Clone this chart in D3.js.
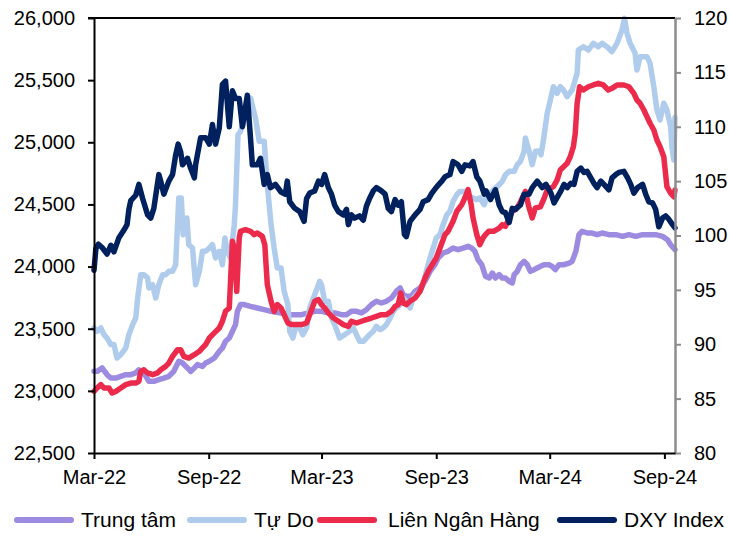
<!DOCTYPE html>
<html>
<head>
<meta charset="utf-8">
<script src="https://cdn.jsdelivr.net/npm/d3@7"></script>
<style>
  html, body { margin: 0; padding: 0; background: #fff; }
  svg { display: block; font-family: "Liberation Sans", Arial, sans-serif; }
</style>
</head>
<body>
<svg id="chart" width="729" height="536"></svg>
<script>
// ---------------- DATA ----------------
const xTickDates = ["2022-03-01", "2022-09-01", "2023-03-01", "2023-09-01", "2024-03-01", "2024-09-01"];
const leftTicks = [22500, 23000, 23500, 24000, 24500, 25000, 25500, 26000];
const rightTicks = [80, 85, 90, 95, 100, 105, 110, 115, 120];
const seriesNames = ["Trung tâm", "Tự Do", "Liên Ngân Hàng", "DXY Index"];

const trungTam = [
["2022-03-01",23157],["2022-03-06",23157],["2022-03-14",23184],["2022-03-22",23130],["2022-03-28",23103],["2022-04-05",23103],["2022-04-13",23117],["2022-04-21",23130],["2022-04-29",23130],["2022-05-07",23144],["2022-05-12",23170],["2022-05-20",23144],["2022-05-28",23077],["2022-06-05",23077],["2022-06-13",23090],["2022-06-21",23103],["2022-06-29",23117],["2022-07-07",23157],["2022-07-15",23238],["2022-07-21",23224],["2022-07-29",23184],["2022-08-03",23157],["2022-08-09",23184],["2022-08-14",23211],["2022-08-22",23197],["2022-08-27",23224],["2022-09-02",23238],["2022-09-10",23264],["2022-09-18",23318],["2022-09-23",23345],["2022-09-28",23399],["2022-10-04",23425],["2022-10-09",23479],["2022-10-14",23533],["2022-10-17",23640],["2022-10-22",23694],["2022-10-28",23694],["2022-11-07",23680],["2022-11-18",23667],["2022-11-29",23653],["2022-12-10",23640],["2022-12-26",23627],["2023-01-10",23613],["2023-01-28",23613],["2023-02-08",23627],["2023-02-18",23640],["2023-03-01",23640],["2023-03-12",23627],["2023-03-22",23627],["2023-04-02",23613],["2023-04-10",23613],["2023-04-18",23640],["2023-04-26",23640],["2023-05-04",23627],["2023-05-12",23653],["2023-05-20",23694],["2023-05-28",23721],["2023-06-05",23707],["2023-06-13",23721],["2023-06-21",23747],["2023-06-29",23801],["2023-07-05",23828],["2023-07-10",23774],["2023-07-15",23761],["2023-07-23",23761],["2023-07-29",23801],["2023-08-06",23828],["2023-08-14",23881],["2023-08-22",23962],["2023-08-30",24015],["2023-09-04",24069],["2023-09-12",24109],["2023-09-20",24123],["2023-09-28",24149],["2023-10-06",24136],["2023-10-14",24149],["2023-10-22",24163],["2023-10-28",24149],["2023-11-02",24123],["2023-11-07",24055],["2023-11-13",24015],["2023-11-19",23922],["2023-11-25",23908],["2023-11-30",23948],["2023-12-05",23908],["2023-12-11",23935],["2023-12-16",23908],["2023-12-21",23908],["2023-12-27",23881],["2024-01-01",23868],["2024-01-04",23935],["2024-01-09",23962],["2024-01-14",24015],["2024-01-20",24042],["2024-01-25",24015],["2024-01-30",23962],["2024-02-05",23975],["2024-02-10",23989],["2024-02-15",24002],["2024-02-21",24015],["2024-02-29",24015],["2024-03-05",24002],["2024-03-10",23975],["2024-03-16",24015],["2024-03-24",24015],["2024-04-01",24028],["2024-04-06",24042],["2024-04-12",24123],["2024-04-17",24257],["2024-04-22",24284],["2024-04-30",24270],["2024-05-08",24270],["2024-05-16",24257],["2024-05-24",24270],["2024-06-04",24257],["2024-06-15",24257],["2024-06-26",24243],["2024-07-06",24257],["2024-07-17",24243],["2024-07-28",24257],["2024-08-07",24257],["2024-08-18",24257],["2024-08-29",24243],["2024-09-06",24216],["2024-09-11",24176],["2024-09-18",24136]
];

const tuDo = [
["2022-03-01",23506],["2022-03-06",23479],["2022-03-12",23506],["2022-03-17",23452],["2022-03-22",23425],["2022-03-28",23372],["2022-04-02",23372],["2022-04-07",23264],["2022-04-13",23291],["2022-04-21",23345],["2022-04-26",23452],["2022-05-02",23533],["2022-05-07",23586],["2022-05-10",23747],["2022-05-15",23935],["2022-05-20",23935],["2022-05-26",23908],["2022-05-28",23828],["2022-06-03",23854],["2022-06-08",23747],["2022-06-13",23854],["2022-06-19",23935],["2022-06-24",23935],["2022-06-29",23962],["2022-07-05",23962],["2022-07-10",24015],["2022-07-15",24552],["2022-07-19",24552],["2022-07-22",24257],["2022-07-28",24391],["2022-07-31",24176],["2022-08-06",24149],["2022-08-11",23854],["2022-08-17",23962],["2022-08-22",24123],["2022-08-27",24123],["2022-09-02",24149],["2022-09-07",24176],["2022-09-12",24069],["2022-09-18",24123],["2022-09-23",24015],["2022-09-27",24230],["2022-10-01",24123],["2022-10-06",24069],["2022-10-12",24337],["2022-10-14",24498],["2022-10-18",25061],["2022-10-22",25088],["2022-10-30",25200],["2022-11-07",25356],["2022-11-15",25195],["2022-11-21",25008],["2022-11-29",25008],["2022-12-04",24659],["2022-12-10",24337],["2022-12-15",24149],["2022-12-20",23989],["2022-12-26",23989],["2022-12-31",23801],["2023-01-06",23694],["2023-01-09",23479],["2023-01-14",23425],["2023-01-20",23533],["2023-01-25",23506],["2023-01-30",23452],["2023-02-05",23506],["2023-02-10",23667],["2023-02-18",23774],["2023-02-26",23881],["2023-03-01",23854],["2023-03-06",23721],["2023-03-12",23721],["2023-03-17",23586],["2023-03-22",23533],["2023-03-30",23425],["2023-04-07",23452],["2023-04-15",23479],["2023-04-21",23506],["2023-04-26",23452],["2023-05-01",23399],["2023-05-07",23399],["2023-05-12",23425],["2023-05-17",23452],["2023-05-23",23479],["2023-05-28",23519],["2023-06-03",23492],["2023-06-08",23506],["2023-06-13",23533],["2023-06-19",23586],["2023-06-24",23640],["2023-06-29",23667],["2023-07-05",23694],["2023-07-10",23747],["2023-07-15",23721],["2023-07-21",23667],["2023-07-26",23747],["2023-07-31",23774],["2023-08-06",23801],["2023-08-11",23854],["2023-08-16",23962],["2023-08-22",24069],["2023-08-27",24149],["2023-09-01",24230],["2023-09-07",24257],["2023-09-12",24337],["2023-09-18",24417],["2023-09-23",24445],["2023-09-28",24525],["2023-10-04",24578],["2023-10-09",24605],["2023-10-17",24605],["2023-10-25",24565],["2023-10-30",24552],["2023-11-05",24538],["2023-11-10",24552],["2023-11-17",24498],["2023-11-22",24578],["2023-11-27",24592],["2023-12-05",24632],["2023-12-11",24659],["2023-12-16",24686],["2023-12-21",24739],["2023-12-27",24766],["2024-01-04",24766],["2024-01-09",24820],["2024-01-14",24847],["2024-01-20",24927],["2024-01-22",25034],["2024-01-28",24927],["2024-02-02",24820],["2024-02-07",24927],["2024-02-13",24930],["2024-02-16",24900],["2024-02-20",25018],["2024-02-26",25233],["2024-03-02",25340],["2024-03-07",25447],["2024-03-13",25394],["2024-03-18",25447],["2024-03-23",25421],["2024-03-29",25367],["2024-04-06",25421],["2024-04-14",25555],["2024-04-16",25742],["2024-04-24",25769],["2024-05-02",25742],["2024-05-10",25796],["2024-05-18",25769],["2024-05-24",25796],["2024-06-01",25769],["2024-06-09",25729],["2024-06-17",25796],["2024-06-25",25903],["2024-06-29",25997],["2024-07-03",25877],["2024-07-08",25796],["2024-07-16",25716],["2024-07-19",25581],["2024-07-24",25689],["2024-08-04",25689],["2024-08-09",25635],["2024-08-15",25447],["2024-08-20",25260],["2024-08-25",25179],["2024-08-31",25314],["2024-09-05",25260],["2024-09-11",25125],["2024-09-13",24965],["2024-09-16",24857],["2024-09-18",25200]
];

const lienNganHang = [
["2022-03-01",22996],["2022-03-06",23023],["2022-03-12",23050],["2022-03-17",23023],["2022-03-25",23023],["2022-03-30",22983],["2022-04-05",22996],["2022-04-13",23023],["2022-04-21",23050],["2022-04-29",23063],["2022-05-07",23063],["2022-05-12",23077],["2022-05-15",23157],["2022-05-20",23170],["2022-05-26",23144],["2022-06-03",23130],["2022-06-11",23144],["2022-06-16",23170],["2022-06-24",23197],["2022-06-29",23224],["2022-07-05",23278],["2022-07-13",23331],["2022-07-18",23331],["2022-07-23",23278],["2022-07-31",23264],["2022-08-09",23291],["2022-08-17",23318],["2022-08-22",23345],["2022-08-27",23372],["2022-09-02",23425],["2022-09-10",23466],["2022-09-18",23506],["2022-09-23",23560],["2022-09-28",23640],["2022-10-04",23667],["2022-10-06",23881],["2022-10-09",24203],["2022-10-12",24149],["2022-10-16",23801],["2022-10-20",24230],["2022-10-22",24284],["2022-10-30",24297],["2022-11-07",24284],["2022-11-13",24257],["2022-11-18",24270],["2022-11-26",24243],["2022-11-30",24176],["2022-12-04",23854],["2022-12-10",23721],["2022-12-15",23640],["2022-12-20",23694],["2022-12-26",23667],["2022-12-31",23613],["2023-01-06",23546],["2023-01-12",23533],["2023-01-20",23533],["2023-01-28",23533],["2023-02-05",23546],["2023-02-10",23613],["2023-02-18",23721],["2023-02-24",23734],["2023-03-01",23694],["2023-03-06",23667],["2023-03-12",23627],["2023-03-20",23586],["2023-03-28",23560],["2023-04-05",23533],["2023-04-13",23519],["2023-04-18",23560],["2023-04-26",23546],["2023-05-04",23560],["2023-05-12",23573],["2023-05-20",23586],["2023-05-28",23600],["2023-06-05",23613],["2023-06-13",23613],["2023-06-21",23640],["2023-06-27",23680],["2023-07-02",23694],["2023-07-06",23787],["2023-07-10",23707],["2023-07-15",23694],["2023-07-21",23721],["2023-07-29",23747],["2023-08-06",23801],["2023-08-14",23908],["2023-08-19",23962],["2023-08-27",24028],["2023-09-01",24069],["2023-09-09",24176],["2023-09-15",24257],["2023-09-20",24284],["2023-09-28",24364],["2023-10-04",24445],["2023-10-12",24498],["2023-10-17",24552],["2023-10-22",24619],["2023-10-27",24498],["2023-10-30",24391],["2023-11-05",24257],["2023-11-10",24176],["2023-11-15",24230],["2023-11-19",24257],["2023-11-24",24284],["2023-12-02",24284],["2023-12-11",24310],["2023-12-16",24337],["2023-12-21",24324],["2023-12-27",24391],["2024-01-01",24445],["2024-01-06",24458],["2024-01-12",24498],["2024-01-17",24552],["2024-01-22",24605],["2024-01-28",24471],["2024-02-02",24391],["2024-02-07",24471],["2024-02-15",24480],["2024-02-20",24536],["2024-02-26",24616],["2024-03-07",24643],["2024-03-13",24697],["2024-03-18",24777],["2024-03-29",24831],["2024-04-03",24884],["2024-04-08",24965],["2024-04-11",25072],["2024-04-14",25314],["2024-04-18",25447],["2024-04-24",25421],["2024-05-02",25447],["2024-05-10",25461],["2024-05-18",25474],["2024-05-26",25461],["2024-06-03",25421],["2024-06-09",25434],["2024-06-17",25461],["2024-06-28",25461],["2024-07-06",25447],["2024-07-14",25394],["2024-07-19",25340],["2024-07-24",25314],["2024-07-30",25260],["2024-08-04",25206],["2024-08-09",25153],["2024-08-15",25099],["2024-08-20",25018],["2024-08-25",24965],["2024-08-31",24884],["2024-09-05",24643],["2024-09-11",24590],["2024-09-16",24562],["2024-09-18",24616]
];

const dxyIndex = [
["2022-03-01",96.8],["2022-03-04",98.8],["2022-03-08",99.2],["2022-03-14",98.9],["2022-03-22",98.3],["2022-03-28",99.1],["2022-04-02",98.5],["2022-04-10",99.8],["2022-04-18",100.5],["2022-04-23",101.0],["2022-04-26",102.4],["2022-04-29",103.2],["2022-05-07",103.7],["2022-05-12",104.7],["2022-05-18",103.4],["2022-05-26",101.9],["2022-05-31",101.6],["2022-06-05",102.5],["2022-06-13",105.6],["2022-06-16",105.0],["2022-06-21",103.8],["2022-06-29",105.0],["2022-07-05",105.6],["2022-07-10",107.4],["2022-07-14",108.4],["2022-07-18",107.7],["2022-07-21",106.5],["2022-07-29",107.1],["2022-08-03",106.2],["2022-08-09",105.3],["2022-08-11",106.5],["2022-08-19",109.0],["2022-08-27",109.0],["2022-09-02",108.4],["2022-09-07",110.2],["2022-09-12",108.4],["2022-09-18",109.9],["2022-09-23",113.9],["2022-09-28",114.2],["2022-10-04",110.0],["2022-10-09",113.3],["2022-10-14",112.6],["2022-10-20",112.6],["2022-10-25",110.0],["2022-11-02",112.9],["2022-11-07",109.0],["2022-11-10",106.5],["2022-11-18",106.5],["2022-11-23",107.1],["2022-11-29",104.7],["2022-12-04",105.6],["2022-12-09",104.4],["2022-12-17",104.7],["2022-12-26",104.0],["2023-01-02",103.8],["2023-01-05",105.0],["2023-01-09",103.1],["2023-01-17",102.5],["2023-01-25",102.2],["2023-02-01",101.3],["2023-02-05",103.4],["2023-02-10",103.9],["2023-02-18",104.1],["2023-02-24",105.0],["2023-03-01",104.7],["2023-03-06",105.6],["2023-03-12",104.4],["2023-03-17",103.8],["2023-03-22",102.8],["2023-03-28",102.2],["2023-04-05",101.9],["2023-04-10",102.4],["2023-04-13",101.0],["2023-04-18",101.9],["2023-04-23",101.6],["2023-05-01",101.8],["2023-05-07",101.4],["2023-05-12",102.7],["2023-05-17",103.4],["2023-05-23",104.1],["2023-05-28",104.4],["2023-06-05",104.1],["2023-06-11",103.8],["2023-06-16",102.5],["2023-06-21",102.2],["2023-06-27",103.3],["2023-07-02",102.8],["2023-07-07",103.1],["2023-07-12",100.1],["2023-07-15",99.9],["2023-07-21",101.3],["2023-07-29",101.9],["2023-08-06",102.4],["2023-08-11",103.1],["2023-08-19",103.3],["2023-08-25",103.9],["2023-09-02",104.5],["2023-09-10",105.0],["2023-09-15",105.4],["2023-09-23",105.6],["2023-09-28",106.8],["2023-10-06",106.5],["2023-10-12",105.9],["2023-10-17",106.5],["2023-10-25",106.4],["2023-10-30",106.8],["2023-11-05",105.4],["2023-11-10",105.0],["2023-11-17",103.8],["2023-11-20",104.1],["2023-11-27",103.3],["2023-12-05",104.2],["2023-12-11",102.8],["2023-12-16",102.2],["2023-12-21",102.1],["2023-12-27",101.2],["2024-01-01",102.5],["2024-01-06",102.4],["2024-01-14",102.8],["2024-01-20",103.8],["2024-01-28",103.8],["2024-02-02",104.4],["2024-02-10",105.0],["2024-02-18",104.4],["2024-02-24",104.7],["2024-03-03",103.9],["2024-03-08",103.0],["2024-03-13",103.5],["2024-03-19",104.1],["2024-03-24",104.7],["2024-03-29",104.4],["2024-04-04",104.8],["2024-04-09",104.7],["2024-04-14",105.9],["2024-04-20",106.2],["2024-04-25",105.8],["2024-04-30",105.9],["2024-05-06",105.3],["2024-05-11",104.8],["2024-05-16",104.4],["2024-05-22",105.0],["2024-05-27",104.7],["2024-06-04",104.2],["2024-06-09",105.3],["2024-06-15",105.6],["2024-06-20",105.8],["2024-06-28",105.9],["2024-07-04",105.3],["2024-07-09",104.7],["2024-07-14",103.9],["2024-07-20",104.4],["2024-07-28",104.7],["2024-08-02",103.8],["2024-08-07",103.1],["2024-08-13",103.0],["2024-08-18",102.4],["2024-08-23",100.8],["2024-08-29",101.6],["2024-09-03",101.8],["2024-09-08",101.5],["2024-09-14",101.0],["2024-09-18",100.7]
];

// ---------------- CHART ----------------
const parse = d3.timeParse("%Y-%m-%d");
const svg = d3.select("#chart");

const plot = { left: 94, right: 675, top: 18, bottom: 453 };
const x = d3.scaleTime()
  .domain([parse("2022-03-01"), parse("2024-09-18")])
  .range([plot.left, plot.right]);
const yL = d3.scaleLinear().domain([22500, 26000]).range([plot.bottom, plot.top]);
const yR = d3.scaleLinear().domain([80, 120]).range([plot.bottom, plot.top]);

const series = [
  { name: seriesNames[0], data: trungTam, axis: "L", color: "#9d8be2" },
  { name: seriesNames[1], data: tuDo, axis: "L", color: "#b0cced" },
  { name: seriesNames[2], data: lienNganHang, axis: "L", color: "#ec2b4c" },
  { name: seriesNames[3], data: dxyIndex, axis: "R", color: "#00215e" }
];

series.forEach(s => {
  const ys = s.axis === "L" ? yL : yR;
  const line = d3.line()
    .x(d => x(parse(d[0])))
    .y(d => ys(d[1]))
    .curve(d3.curveLinear);
  svg.append("path")
    .attr("d", line(s.data))
    .attr("fill", "none")
    .attr("stroke", s.color)
    .attr("stroke-width", 5.5)
    .attr("stroke-linejoin", "round")
    .attr("stroke-linecap", "round");
});

// top border
svg.append("line")
  .attr("x1", plot.left - 6).attr("x2", plot.right)
  .attr("y1", plot.top).attr("y2", plot.top)
  .attr("stroke", "#000").attr("stroke-width", 2);

const fontSize = 20;
const legendFontSize = 21;

// left axis
const gL = svg.append("g")
  .attr("transform", `translate(${plot.left},0)`)
  .call(d3.axisLeft(yL).tickValues(leftTicks).tickFormat(d3.format(",")).tickSize(6).tickSizeOuter(0).tickPadding(13));
gL.select(".domain").attr("stroke", "#000").attr("stroke-width", 2);
gL.selectAll(".tick line").attr("stroke", "#000").attr("stroke-width", 2);
gL.selectAll(".tick text").attr("font-size", fontSize).attr("fill", "#000").attr("font-family", "Liberation Sans, Arial, sans-serif");

// right axis
const gR = svg.append("g")
  .attr("transform", `translate(${plot.right},0)`)
  .call(d3.axisRight(yR).tickValues(rightTicks).tickSize(6).tickSizeOuter(0).tickPadding(13));
gR.select(".domain").attr("stroke", "#8c8c8c").attr("stroke-width", 2.5);
gR.selectAll(".tick line").attr("stroke", "#8c8c8c").attr("stroke-width", 2);
gR.selectAll(".tick text").attr("font-size", fontSize).attr("fill", "#000").attr("font-family", "Liberation Sans, Arial, sans-serif");

// bottom axis
const gB = svg.append("g")
  .attr("transform", `translate(0,${plot.bottom})`)
  .call(d3.axisBottom(x).tickValues(xTickDates.map(parse)).tickFormat(d3.timeFormat("%b-%y")).tickSize(6).tickSizeOuter(0).tickPadding(11));
gB.select(".domain").attr("stroke", "#000").attr("stroke-width", 2);
gB.selectAll(".tick line").attr("stroke", "#000").attr("stroke-width", 2);
gB.selectAll(".tick text").attr("font-size", fontSize).attr("fill", "#000").attr("font-family", "Liberation Sans, Arial, sans-serif");

// legend
const legendY = 520;
const legendLineX = [17, 190, 320, 560];
const legendTextX = [81, 254, 388, 624];
const legend = svg.append("g");
series.forEach((s, i) => {
  legend.append("line")
    .attr("x1", legendLineX[i]).attr("x2", legendLineX[i] + 54)
    .attr("y1", legendY).attr("y2", legendY)
    .attr("stroke", s.color).attr("stroke-width", 6).attr("stroke-linecap", "round");
  legend.append("text")
    .attr("x", legendTextX[i]).attr("y", legendY)
    .attr("dy", "0.35em")
    .attr("font-size", legendFontSize)
    .attr("fill", "#000")
    .text(s.name);
});
</script>
</body>
</html>
